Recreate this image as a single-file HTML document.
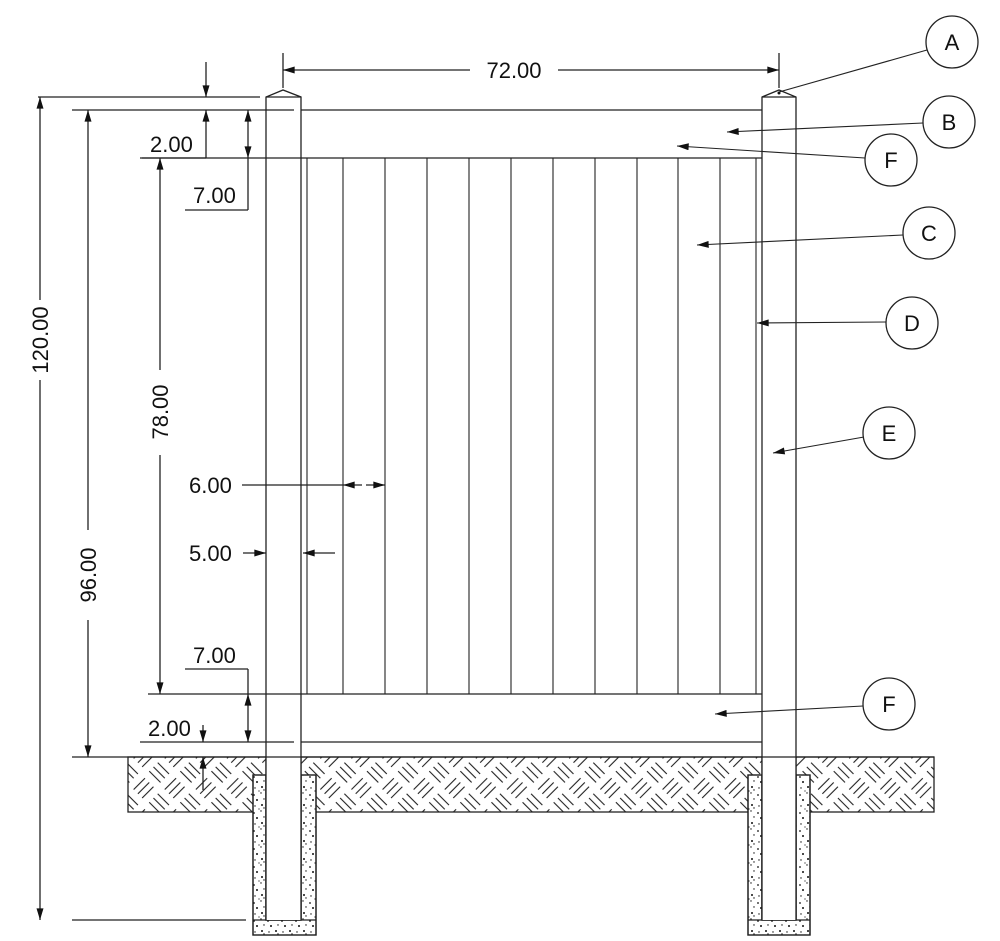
<!DOCTYPE html>
<html><head><meta charset="utf-8"><style>
html,body{margin:0;padding:0;background:#fff;}
svg{display:block;}
text{font-family:"Liberation Sans",sans-serif;font-size:22px;fill:#111;}
</style></head><body>
<svg width="1000" height="941" viewBox="0 0 1000 941" xmlns="http://www.w3.org/2000/svg">
<defs>
<pattern id="bw" width="44" height="44" patternUnits="userSpaceOnUse" patternTransform="translate(128,757) rotate(45)">
<g stroke="#222" stroke-width="1.1">
<line x1="3" y1="5" x2="19" y2="5"/><line x1="3" y1="11" x2="19" y2="11"/><line x1="3" y1="17" x2="19" y2="17"/>
<line x1="25" y1="27" x2="41" y2="27"/><line x1="25" y1="33" x2="41" y2="33"/><line x1="25" y1="39" x2="41" y2="39"/>
<line x1="27" y1="3" x2="27" y2="19"/><line x1="33" y1="3" x2="33" y2="19"/><line x1="39" y1="3" x2="39" y2="19"/>
<line x1="5" y1="25" x2="5" y2="41"/><line x1="11" y1="25" x2="11" y2="41"/><line x1="17" y1="25" x2="17" y2="41"/>
</g></pattern>
<pattern id="st" width="14" height="18" patternUnits="userSpaceOnUse">
<g fill="#111"><circle cx="2" cy="3" r=".9"/><circle cx="9" cy="1" r=".7"/><circle cx="5" cy="8" r="1"/><circle cx="12" cy="7" r=".7"/><circle cx="3" cy="14" r=".7"/><circle cx="10" cy="13" r="1"/><circle cx="7" cy="17" r=".6"/><circle cx="12" cy="16" r=".7"/></g>
</pattern>
<marker id="ar" viewBox="0 0 10 6" refX="10" refY="3" markerWidth="18" markerHeight="7" markerUnits="userSpaceOnUse" orient="auto-start-reverse"><path d="M0,0L10,3L0,6z" fill="#111"/></marker>
</defs>
<g stroke="#222" stroke-width="1.3" fill="none">
<rect x="128" y="757" width="806" height="55" fill="url(#bw)" stroke="#222"/>
<path d="M253 775 L266 775 L266 920 L301 920 L301 775 L316 775 L316 935 L253 935 Z" fill="#fff"/>
<path d="M253 775 L266 775 L266 920 L301 920 L301 775 L316 775 L316 935 L253 935 Z" fill="url(#st)"/>
<path d="M748 775 L762 775 L762 920 L796 920 L796 775 L810 775 L810 935 L748 935 Z" fill="#fff"/>
<path d="M748 775 L762 775 L762 920 L796 920 L796 775 L810 775 L810 935 L748 935 Z" fill="url(#st)"/>
<line x1="253" y1="920" x2="316" y2="920"/><line x1="748" y1="920" x2="810" y2="920"/>
<rect x="266" y="757" width="35" height="163" fill="#fff"/>
<rect x="762" y="757" width="34" height="163" fill="#fff"/>
<path d="M266 920 L266 97 L283 90 L301 97 L301 920" fill="#fff"/>
<path d="M762 920 L762 97 L779 90 L796 97 L796 920" fill="#fff"/>
<line x1="266" y1="97" x2="301" y2="97"/><line x1="762" y1="97" x2="796" y2="97"/>
<line x1="301" y1="110" x2="762" y2="110"/>
<line x1="140" y1="158" x2="762" y2="158"/>
<line x1="148" y1="694" x2="762" y2="694"/>
<line x1="258" y1="742" x2="294" y2="742"/><line x1="301" y1="742" x2="762" y2="742"/>
<line x1="72" y1="757" x2="934" y2="757"/>
<g stroke-width="1.1">
<line x1="307" y1="158" x2="307" y2="694"/><line x1="343" y1="158" x2="343" y2="694"/><line x1="385" y1="158" x2="385" y2="694"/><line x1="427" y1="158" x2="427" y2="694"/><line x1="469" y1="158" x2="469" y2="694"/><line x1="511" y1="158" x2="511" y2="694"/><line x1="553" y1="158" x2="553" y2="694"/><line x1="595" y1="158" x2="595" y2="694"/><line x1="637" y1="158" x2="637" y2="694"/><line x1="678" y1="158" x2="678" y2="694"/><line x1="720" y1="158" x2="720" y2="694"/><line x1="756" y1="158" x2="756" y2="694"/>
</g>
<line x1="38" y1="97" x2="260" y2="97"/>
<line x1="72" y1="110" x2="294" y2="110"/>
<line x1="72" y1="920" x2="246" y2="920"/>
<line x1="283" y1="53" x2="283" y2="88"/>
<line x1="779" y1="53" x2="779" y2="88"/>
<line x1="40" y1="97" x2="40" y2="300" marker-start="url(#ar)"/><line x1="40" y1="380" x2="40" y2="920" marker-end="url(#ar)"/>
<line x1="88" y1="110" x2="88" y2="530" marker-start="url(#ar)"/><line x1="88" y1="620" x2="88" y2="757" marker-end="url(#ar)"/>
<line x1="160" y1="158" x2="160" y2="370" marker-start="url(#ar)"/><line x1="160" y1="455" x2="160" y2="694" marker-end="url(#ar)"/>
<line x1="283" y1="70" x2="470" y2="70" marker-start="url(#ar)"/><line x1="558" y1="70" x2="779" y2="70" marker-end="url(#ar)"/>
<line x1="206" y1="62" x2="206" y2="97" marker-end="url(#ar)"/>
<line x1="206" y1="158" x2="206" y2="110" marker-end="url(#ar)"/>
<line x1="142" y1="158" x2="206" y2="158"/>
<line x1="248" y1="110" x2="248" y2="158" marker-start="url(#ar)" marker-end="url(#ar)"/>
<line x1="248" y1="158" x2="248" y2="210"/><line x1="185" y1="210" x2="248" y2="210"/>
<line x1="185" y1="669" x2="248" y2="669"/><line x1="248" y1="669" x2="248" y2="694"/>
<line x1="248" y1="694" x2="248" y2="742" marker-start="url(#ar)" marker-end="url(#ar)"/>
<line x1="140" y1="742" x2="258" y2="742"/>
<line x1="203" y1="725" x2="203" y2="742" marker-end="url(#ar)"/>
<line x1="203" y1="790" x2="203" y2="757" marker-end="url(#ar)"/>
<line x1="242" y1="485" x2="343" y2="485"/>
<line x1="362" y1="485" x2="343" y2="485" marker-end="url(#ar)"/>
<line x1="366" y1="485" x2="385" y2="485" marker-end="url(#ar)"/>
<line x1="243" y1="553" x2="266" y2="553" marker-end="url(#ar)"/>
<line x1="335" y1="553" x2="303" y2="553" marker-end="url(#ar)"/>
<circle cx="952" cy="42" r="26"/><circle cx="949" cy="122" r="26"/><circle cx="891" cy="160" r="26"/><circle cx="929" cy="233" r="26"/><circle cx="912" cy="323" r="26"/><circle cx="889" cy="433" r="26"/><circle cx="889" cy="704" r="26"/>
<g stroke-width="1.1">
<line x1="927" y1="50" x2="779" y2="92"/>
<line x1="923" y1="123" x2="727" y2="132" marker-end="url(#ar)"/>
<line x1="865" y1="158" x2="677" y2="146" marker-end="url(#ar)"/>
<line x1="903" y1="235" x2="697" y2="245" marker-end="url(#ar)"/>
<line x1="886" y1="322" x2="757" y2="323" marker-end="url(#ar)"/>
<line x1="864" y1="437" x2="773" y2="453" marker-end="url(#ar)"/>
<line x1="863" y1="706" x2="715" y2="714" marker-end="url(#ar)"/>
</g>
</g>
<circle cx="779" cy="93" r="1.5" fill="#111"/>
<text x="514" y="78" text-anchor="middle">72.00</text>
<text transform="translate(48,340) rotate(-90)" text-anchor="middle">120.00</text>
<text transform="translate(96,575) rotate(-90)" text-anchor="middle">96.00</text>
<text transform="translate(168,412) rotate(-90)" text-anchor="middle">78.00</text>
<text x="150" y="152">2.00</text>
<text x="193" y="203">7.00</text>
<text x="193" y="663">7.00</text>
<text x="148" y="736">2.00</text>
<text x="189" y="493">6.00</text>
<text x="189" y="561">5.00</text>
<g text-anchor="middle">
<text x="952" y="50">A</text><text x="949" y="130">B</text><text x="891" y="168">F</text><text x="929" y="241">C</text><text x="912" y="331">D</text><text x="889" y="441">E</text><text x="889" y="712">F</text>
</g>
</svg>
</body></html>
